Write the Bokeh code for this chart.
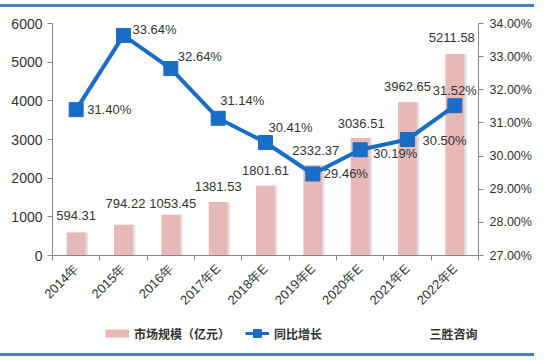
import math
from bokeh.plotting import figure
from bokeh.layouts import column
from bokeh.models import (Range1d, LinearAxis, FixedTicker, PrintfTickFormatter,
                          ColumnDataSource, Legend, LegendItem, LabelSet, Label, Div)
from bokeh.transform import dodge
from bokeh.core.properties import value
from bokeh.embed import file_html
from bokeh.resources import INLINE

# ---- data ----
years = ["2014年", "2015年", "2016年", "2017年E", "2018年E",
         "2019年E", "2020年E", "2021年E", "2022年E"]
market = [594.31, 794.22, 1053.45, 1381.53, 1801.61, 2332.37, 3036.51, 3962.65, 5211.58]
growth = [31.40, 33.64, 32.64, 31.14, 30.41, 29.46, 30.19, 30.50, 31.52]
left_ticks = [0, 1000, 2000, 3000, 4000, 5000, 6000]
right_ticks = [27, 28, 29, 30, 31, 32, 33, 34]
bar_name = "市场规模（亿元）"
line_name = "同比增长"
source_note = "三胜咨询"

# label nudges (screen px, +y = up) imitating the reference layout
bar_lbl_dx = [0, 2, 2, 0, 0, 3, 1, 0, -3]
bar_lbl_dy = [17, 21, 11, 16, 15, 15, 15, 16, 16]
pct_lbl_dx = [11, 9, 7, 2, 3, 11, 13, 15, 22]
pct_lbl_dy = [0, 6, 12, 18, 15, 0, -4, -1, 15]
pct_lbl_align = ["left"] * 8 + ["right"]

xs = list(range(1, len(years) + 1))
src = ColumnDataSource(dict(
    x=xs, market=market, growth=growth,
    mlabel=[f"{v:.2f}" for v in market],
    glabel=[f"{v:.2f}%" for v in growth],
    mdx=bar_lbl_dx, mdy=bar_lbl_dy, gdx=pct_lbl_dx, gdy=pct_lbl_dy,
    galign=pct_lbl_align,
))

NUM_FONT = "Liberation Sans"
CJK_FONT = "Noto Sans CJK SC"
TXT = "#333333"
AXIS = "#868686"
BAR = "#E6B9B8"
LINE = "#1A6DC6"
FRAME_BLUE = "#4A7EBB"
W = 534
FL, FR = 52, 478   # frame left / right in page pixels

p = figure(width=W, height=311, output_backend="svg", toolbar_location=None,
           x_range=Range1d(0.5, len(years) + 0.5), y_range=Range1d(0, 6000),
           min_border_left=FL, min_border_right=W - FR, min_border_top=16,
           min_border_bottom=63, margin=0)
p.outline_line_color = None
p.grid.grid_line_color = None
p.extra_y_ranges = {"pct": Range1d(27, 34)}

# bars (with faint shadow)
p.vbar(x=dodge("x", 0.05, range=p.x_range), top="market", width=0.4, source=src,
       fill_color="#D9D9D9", line_color=None, fill_alpha=0.8)
p.vbar(x="x", top="market", width=0.4, source=src, fill_color=BAR, line_color=None)

# line
p.line(x="x", y="growth", source=src, y_range_name="pct", line_color=LINE, line_width=4)
p.scatter(x="x", y="growth", source=src, y_range_name="pct", marker="square",
          size=14, fill_color=LINE, line_color=LINE)

# data labels
p.add_layout(LabelSet(x="x", y="market", text="mlabel", source=src,
                      x_offset="mdx", y_offset="mdy", text_align="center",
                      text_baseline="middle", text_font=value(NUM_FONT),
                      text_font_size="13px", text_color=TXT))
p.add_layout(LabelSet(x="x", y="growth", text="glabel", source=src, y_range_name="pct",
                      x_offset="gdx", y_offset="gdy", text_align="galign",
                      text_baseline="middle", text_font=value(NUM_FONT),
                      text_font_size="13px", text_color=TXT))

# axes
ya = p.yaxis[0]
ya.ticker = FixedTicker(ticks=left_ticks)
ya.axis_line_color = AXIS
ya.major_tick_line_color = AXIS
ya.major_tick_in = 0
ya.major_tick_out = 5
ya.minor_tick_line_color = None
ya.major_label_text_font = NUM_FONT
ya.major_label_text_font_size = "14px"
ya.major_label_text_color = TXT

ra = LinearAxis(y_range_name="pct", ticker=FixedTicker(ticks=right_ticks),
                formatter=PrintfTickFormatter(format="%.2f%%"))
ra.axis_line_color = AXIS
ra.major_tick_line_color = AXIS
ra.major_tick_in = 0
ra.major_tick_out = 5
ra.major_label_standoff = 6
ra.minor_tick_line_color = None
ra.major_label_text_font = NUM_FONT
ra.major_label_text_font_size = "12.5px"
ra.major_label_text_color = TXT
p.add_layout(ra, "right")

xa = p.xaxis[0]
xa.ticker = FixedTicker(ticks=xs, minor_ticks=[i + 0.5 for i in range(len(years) + 1)])
xa.major_label_overrides = {x: y for x, y in zip(xs, years)}
xa.major_label_orientation = math.pi / 4
xa.major_tick_line_color = None
xa.minor_tick_line_color = AXIS
xa.minor_tick_in = 0
xa.minor_tick_out = 5
xa.axis_line_color = AXIS
xa.major_label_text_font = NUM_FONT
xa.major_label_text_font_size = "13px"
xa.major_label_text_color = TXT

# ---- legend strip (separate small figure; its frame aligns with the chart frame) ----
LH = 34
lg = figure(width=W, height=LH, output_backend="svg", toolbar_location=None,
            x_range=Range1d(FL, FR), y_range=Range1d(0, LH), x_axis_type=None,
            y_axis_type=None, min_border=0, margin=0)
lg.outline_line_color = None
lg.grid.grid_line_color = None
# legend-only swatch renderers, placed outside the visible range
sw_bar = lg.line(x=[-20, -10], y=[-20, -20], line_color=BAR, line_width=8)
sw_line = lg.line(x=[-20, -10], y=[-20, -20], line_color=LINE, line_width=3)
sw_mark = lg.scatter(x=[-15], y=[-20], marker="square", size=8,
                     fill_color=LINE, line_color=LINE)
leg = Legend(items=[LegendItem(label=bar_name, renderers=[sw_bar]),
                    LegendItem(label=line_name, renderers=[sw_line, sw_mark])],
             orientation="horizontal", location=(105 - FL, 9), padding=0, margin=0,
             border_line_color=None, background_fill_alpha=0,
             label_text_font=CJK_FONT, label_text_font_size="12px",
             label_text_font_style="bold", label_text_color=TXT,
             glyph_height=20, glyph_width=24, label_standoff=5, spacing=15)
lg.add_layout(leg)
lg.add_layout(Label(x=FR - 1, y=19, text=source_note, text_font=CJK_FONT,
                    text_font_size="12px", text_font_style="bold",
                    text_color=TXT, text_baseline="middle", text_align="right"))

top_line = Div(width=W, height=3, margin=(4, 0, 0, 0),
               styles={"background-color": FRAME_BLUE})
bottom_line = Div(width=W, height=3, margin=(1, 0, 0, 0),
                  styles={"background-color": FRAME_BLUE})

layout = column(top_line, p, lg, bottom_line, spacing=0, margin=0)
open("out.html", "w").write(file_html(layout, INLINE))
